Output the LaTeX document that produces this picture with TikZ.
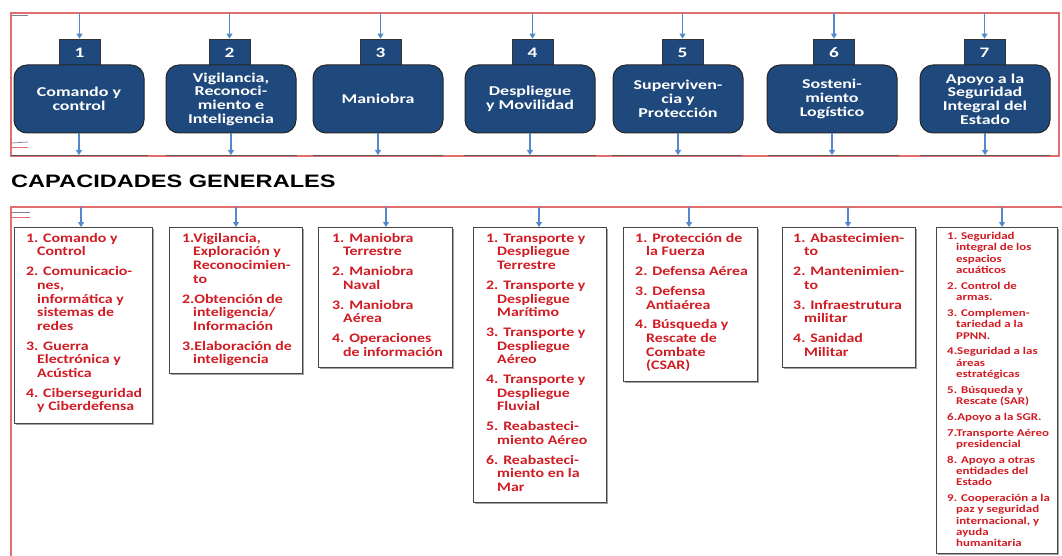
\documentclass[tikz,border=0pt]{standalone}
\usepackage{fontspec}
\setmainfont{Carlito}
\newfontfamily\topfont[FakeStretch=1.33]{Carlito}
\newfontfamily\lowfont[FakeStretch=1.22]{Carlito}
\newfontfamily\smallfont[FakeStretch=1.24]{Carlito}
\newfontfamily\titlefont[FakeStretch=1.31]{Liberation Sans}
\usetikzlibrary{arrows.meta,shadows}
\definecolor{navy}{RGB}{31,73,125}
\definecolor{frame}{RGB}{226,110,110}
\definecolor{arrowblue}{RGB}{84,136,204}
\definecolor{txtred}{RGB}{208,28,36}
\definecolor{boxgray}{RGB}{70,70,70}
\definecolor{tick}{RGB}{120,130,150}
\newcommand\lind{\hspace*{11pt}}
\newcommand\sind{\hspace*{9pt}}
\tikzset{
  redframe/.style={draw=frame, line width=2pt},
  arr/.style={draw=arrowblue, line width=1.1pt, -{Triangle[width=6pt,length=5pt]}},
  numbox/.style={fill=navy, draw=black!80, line width=0.8pt, minimum width=41pt, minimum height=27pt, inner sep=0pt, text=white, font=\topfont\bfseries\fontsize{14.5}{14.5}\selectfont},
  capbox/.style={fill=navy, draw=black!85, line width=1pt, rounded corners=13pt, minimum width=130pt, minimum height=68pt, inner sep=0pt, text=white, align=center, font=\topfont\bfseries\fontsize{13.5}{13.7}\selectfont},
  listbox/.style={draw=boxgray, line width=1.3pt, fill=white, inner sep=0pt, anchor=north west, drop shadow={shadow xshift=1.5pt, shadow yshift=-1.5pt, fill=black!45, opacity=0.8}},
  listtxt/.style={anchor=north west, inner sep=0pt, text=txtred, font=\lowfont\bfseries\fontsize{13}{13.7}\selectfont},
  smalltxt/.style={anchor=north west, inner sep=0pt, text=txtred, font=\smallfont\bfseries\fontsize{10.4}{11.3}\selectfont},
  underline/.style={draw=black!65, line width=1pt},
  ticks/.style={draw=tick, line width=0.7pt},
}
\begin{document}
\begin{tikzpicture}[x=1pt,y=-1pt]
\useasboundingbox (0,0) rectangle (1062,556);
\fill[white] (0,0) rectangle (1062,556);
% frames
\draw[redframe] (11,13) rectangle (1059,156);
\draw[redframe] (1062,207) -- (11,207) -- (11,556);
\draw[ticks] (12,15) -- (28,15);
\draw[ticks] (12,143) -- (28,142);
\draw[ticks,draw=frame] (12,147) -- (28,147);
\draw[ticks] (12,212) -- (30,212);
\draw[ticks,draw=frame] (12,217) -- (30,217);
% gray segments at the bottom of the top frame
\foreach \a/\b in {11/148,166/297,313/443,464/596,612/742,768/899,920/1050}
  \draw[underline] (\a,155.3) -- (\b,155.3);
% number boxes
\node[numbox] (n1) at (79.5,52.5) {1};
\node[numbox] (n2) at (229.5,52.5) {2};
\node[numbox] (n3) at (380.5,52.5) {3};
\node[numbox] (n4) at (532.5,52.5) {4};
\node[numbox] (n5) at (682.5,52.5) {5};
\node[numbox] (n6) at (834,52.5) {6};
\node[numbox] (n7) at (984.5,52.5) {7};
% capability boxes
\node[capbox] (c1) at (79,99) {Comando y\\control};
\node[capbox] (c2) at (231,99) {Vigilancia,\\Reconoci-\\miento e\\Inteligencia};
\node[capbox] (c3) at (378,99) {Maniobra};
\node[capbox] (c4) at (530,99) {Despliegue\\y Movilidad};
\node[capbox] (c5) at (678,99) {Superviven-\\cia y\\Protección};
\node[capbox] (c6) at (832,99) {Sosteni-\\miento\\Logístico};
\node[capbox] (c7) at (985,99) {Apoyo a la\\Seguridad\\Integral del\\Estado};
% top arrows
\foreach \i in {1,...,7}{
  \coordinate (ta\i) at (n\i.north |- 0,13);
  \draw[arr] (ta\i) -- (n\i.north);
  \coordinate (tb\i) at (c\i.south |- 0,155);
  \draw[arr] (c\i.south) -- (tb\i);
}
% title
\node[anchor=base west, inner sep=0pt, font=\titlefont\bfseries\fontsize{18}{18}\selectfont] (title) at (11,188) {CAPACIDADES GENERALES};
% lower boxes
\node[listbox, minimum width=138pt, minimum height=196pt] (b1) at (14,227) {};
\node[listbox, minimum width=133pt, minimum height=146pt] (b2) at (169,227) {};
\node[listbox, minimum width=134pt, minimum height=140pt] (b3) at (318,227) {};
\node[listbox, minimum width=133pt, minimum height=275pt] (b4) at (473,227) {};
\node[listbox, minimum width=134pt, minimum height=154pt] (b5) at (623,227) {};
\node[listbox, minimum width=133pt, minimum height=140pt] (b6) at (782,227) {};
\node[listbox, minimum width=121pt, minimum height=326pt] (b7) at (936,227) {};
% lower arrows
\foreach \i/\x in {1/81,2/236,3/386,4/539,5/689,6/848,7/1002}{
  \coordinate (la\i) at (\x,207);
  \draw[arr] (la\i) -- (la\i |- b\i.north);
}
% lists
\node[listtxt] (t1) at (26,232.5) {\begin{tabular}{@{}l@{}}
1. Comando y\\ \lind Control\\[6pt]
2. Comunicacio-\\ \lind nes,\\ \lind informática y\\ \lind sistemas de\\ \lind redes\\[6pt]
3. Guerra\\ \lind Electrónica y\\ \lind Acústica\\[6pt]
4. Ciberseguridad\\ \lind y Ciberdefensa
\end{tabular}};
\node[listtxt] (t2) at (182,232.5) {\begin{tabular}{@{}l@{}}
1.Vigilancia,\\ \lind Exploración y\\ \lind Reconocimien-\\ \lind to\\[6pt]
2.Obtención de\\ \lind inteligencia/\\ \lind Información\\[6pt]
3.Elaboración de\\ \lind inteligencia
\end{tabular}};
\node[listtxt] (t3) at (332,232.5) {\begin{tabular}{@{}l@{}}
1. Maniobra\\ \lind Terrestre\\[6pt]
2. Maniobra\\ \lind Naval\\[6pt]
3. Maniobra\\ \lind Aérea\\[6pt]
4. Operaciones\\ \lind de información
\end{tabular}};
\node[listtxt] (t4) at (486,232.5) {\begin{tabular}{@{}l@{}}
1. Transporte y\\ \lind Despliegue\\ \lind Terrestre\\[6pt]
2. Transporte y\\ \lind Despliegue\\ \lind Marítimo\\[6pt]
3. Transporte y\\ \lind Despliegue\\ \lind Aéreo\\[6pt]
4. Transporte y\\ \lind Despliegue\\ \lind Fluvial\\[6pt]
5. Reabasteci-\\ \lind miento Aéreo\\[6pt]
6. Reabasteci-\\ \lind miento en la\\ \lind Mar
\end{tabular}};
\node[listtxt] (t5) at (635,232.5) {\begin{tabular}{@{}l@{}}
1. Protección de\\ \lind la Fuerza\\[6pt]
2. Defensa Aérea\\[6pt]
3. Defensa\\ \lind Antiaérea\\[6pt]
4. Búsqueda y\\ \lind Rescate de\\ \lind Combate\\ \lind (CSAR)
\end{tabular}};
\node[listtxt] (t6) at (793,232.5) {\begin{tabular}{@{}l@{}}
1. Abastecimien-\\ \lind to\\[6pt]
2. Mantenimien-\\ \lind to\\[6pt]
3. Infraestrutura\\ \lind militar\\[6pt]
4. Sanidad\\ \lind Militar
\end{tabular}};
\node[smalltxt] (t7) at (947,231.5) {\begin{tabular}{@{}l@{}}
1. Seguridad\\ \sind integral de los\\ \sind espacios\\ \sind acuáticos\\[4.5pt]
2. Control de\\ \sind armas.\\[4.5pt]
3. Complemen-\\ \sind tariedad a la\\ \sind PPNN.\\[4.5pt]
4.Seguridad a las\\ \sind áreas\\ \sind estratégicas\\[4.5pt]
5. Búsqueda y\\ \sind Rescate (SAR)\\[4.5pt]
6.Apoyo a la SGR.\\[4.5pt]
7.Transporte Aéreo\\ \sind presidencial\\[4.5pt]
8. Apoyo a otras\\ \sind entidades del\\ \sind Estado\\[4.5pt]
9. Cooperación a la\\ \sind paz y seguridad\\ \sind internacional, y\\ \sind ayuda\\ \sind humanitaria
\end{tabular}};
\end{tikzpicture}
\end{document}
